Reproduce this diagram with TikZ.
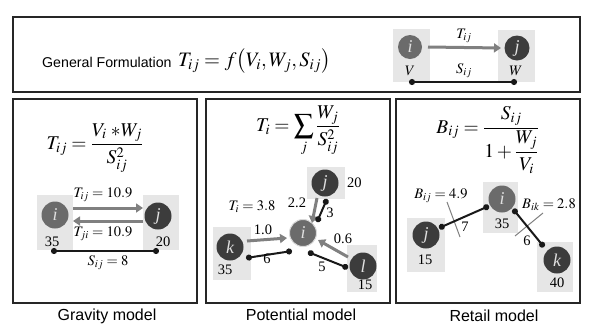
\documentclass[tikz,border=0pt]{standalone}
\usepackage{mathptmx}
\usepackage{fontspec}
\setmainfont{Liberation Serif}
\newfontfamily\sansf{Liberation Sans}
\usetikzlibrary{arrows.meta,calc}
\definecolor{midg}{HTML}{6B6B6B}
\definecolor{darkg}{HTML}{3C3C3C}
\definecolor{bgg}{HTML}{E6E6E6}
\definecolor{arrg}{HTML}{808080}
\begin{document}
\begin{tikzpicture}[x=1pt,y=-1pt,
  frame/.style={draw=black!85,line width=2pt},
  bgbox/.style={fill=bgg,draw=none},
  nd/.style={circle,inner sep=0pt,minimum size=27pt,text=white!88!black,font=\fontsize{18}{18}\selectfont\itshape},
  ndmid/.style={nd,fill=midg},
  nddark/.style={nd,fill=darkg},
  flow/.style={draw=arrg,line width=3pt,-{Triangle[length=7pt,width=9pt]}},
  link/.style={draw=black!90,line width=2pt,{Circle[length=6pt]}-{Circle[length=6pt]}},
  crossline/.style={draw=arrg,line width=1pt},
  lbl/.style={font=\fontsize{14.5}{14.5}\selectfont,inner sep=1pt},
  caption/.style={font=\sansf\fontsize{16}{16}\selectfont,inner sep=0pt}]
\useasboundingbox (0,0) rectangle (589,325);
\fill[white] (0,0) rectangle (589,325);
% frames
\draw[frame] (13,17) rectangle (580,92);
\draw[frame] (13,99) rectangle (197,303);
\draw[frame] (206,99) rectangle (390,303);
\draw[frame] (396,99) rectangle (580,303);
% ---------- top ----------
\node[font=\sansf\fontsize{14.2}{16}\selectfont,anchor=west,inner sep=0pt] (gf) at (42,62) {General Formulation};
\node[anchor=west,inner sep=0pt,font=\fontsize{20.5}{22}\selectfont] (gfeq) at (178,61) {$T_{ij}=f\bigl(V_i,W_j,S_{ij}\bigr)$};
\fill[bgbox] (393,29) rectangle (430,82);
\fill[bgbox] (498,30) rectangle (535,82);
\node[ndmid,minimum size=24pt] (ti) at (410,47) {i};
\node[nddark,minimum size=25pt] (tj) at (517,48) {j};
\draw[flow] ($(ti)+(18,0)$) -- ($(tj)+(-16,0)$);
\node[lbl] (tT) at (464,36) {$T_{ij}$};
\node[lbl] (tV) at (410,71) {$V$};
\node[lbl] (tW) at (516,71) {$W$};
\node[lbl] (tS) at (464,71) {$S_{ij}$};
\draw[link] ($(ti)+(-1,35)$) -- ($(tj)+(0,34)$);
% ---------- gravity ----------
\node[font=\fontsize{19.5}{22}\selectfont] (geq) at (95,148) {$\displaystyle T_{ij}=\frac{V_i\;{*}W_j}{S_{ij}^2}$};
\fill[bgbox] (37,195) rectangle (73,250);
\fill[bgbox] (143,195) rectangle (179,250);
\node[ndmid] (gi) at (55,215) {i};
\node[nddark] (gj) at (158,216) {j};
\draw[flow] ($(gi)+(18,-7)$) -- ($(gj)+(-15,-8)$);
\draw[flow] ($(gj)+(-15,5)$) -- ($(gi)+(18,6)$);
\node[lbl] (gT1) at (103,195) {$T_{ij}=10.9$};
\node[lbl] (gT2) at (103,234) {$T_{ji}=10.9$};
\node[lbl] (g35) at (52,242) {35};
\node[lbl] (g20) at (163,242) {20};
\draw[link] ($(gi)+(-4,36)$) -- ($(gj)+(1,35)$);
\node[lbl] (gS) at (108,263) {$S_{ij}=8$};
\node[caption] (gcap) at (107,316) {Gravity model};
% ---------- potential ----------
\node[font=\fontsize{19.5}{22}\selectfont] (peq) at (298,131) {$\displaystyle T_i=\sum_j\frac{W_j}{S_{ij}^2}$};
\fill[bgbox] (307,167) rectangle (345,199);
\fill[bgbox] (213,227) rectangle (251,280);
\fill[bgbox] (347,245) rectangle (377,292);
\node[nddark] (pj) at (325,183) {j};
\node[ndmid,draw=white!85!black,line width=1pt] (pi) at (303,233) {i};
\node[nddark] (pk) at (230,247) {k};
\node[nddark] (pl) at (363,266) {l};
\node[lbl,anchor=west] (p20) at (346,183) {20};
\node[lbl] (p35) at (225,270) {35};
\node[lbl] (p15) at (365,285) {15};
\node[lbl] (pT) at (252,207) {$T_i=3.8$};
\draw[flow] ($(pj)+(-8,15)$) -- ($(pi)+(9,-10)$);
\draw[flow] ($(pk)+(17,-6)$) -- ($(pi)+(-16,5)$);
\draw[flow] ($(pl)+(-15,-9)$) -- ($(pi)+(15,7)$);
\draw[link] ($(pj)+(2,16)$) -- ($(pi)+(14,-11)$);
\draw[link] ($(pk)+(16,11)$) -- ($(pi)+(-11,18)$);
\draw[link] ($(pi)+(5,19)$) -- ($(pl)+(-15,2)$);
\node[lbl] (p22) at (297,203) {2.2};
\node[lbl] (p3) at (330,213) {3};
\node[lbl] (p10) at (263,230) {1.0};
\node[lbl] (p06) at (343,239) {0.6};
\node[lbl] (p6) at (267,259) {6};
\node[lbl] (p5) at (322,267) {5};
\node[caption] (pcap) at (301,315) {Potential model};
% ---------- retail ----------
\node[font=\fontsize{19.5}{22}\selectfont] (req) at (488,140) {$\displaystyle B_{ij}=\frac{S_{ij}}{1+\displaystyle\frac{W_j}{V_i}}$};
\fill[bgbox] (483,182) rectangle (518,233);
\fill[bgbox] (407,218) rectangle (445,272);
\fill[bgbox] (537,242) rectangle (573,292);
\node[ndmid] (ri) at (502,199) {i};
\node[nddark] (rj) at (426,235) {j};
\node[nddark] (rk) at (557,260) {k};
\node[lbl] (r35) at (502,224) {35};
\node[lbl] (r15) at (425,260) {15};
\node[lbl] (r40) at (557,283) {40};
\draw[crossline] (447,202) -- (460,237);
\draw[crossline] (515,236) -- (543,213);
\draw[link] ($(rj)+(13,-7)$) -- ($(ri)+(-13,7)$);
\draw[link] ($(ri)+(11,10)$) -- ($(rk)+(-13,-13)$);
\node[lbl] (rB1) at (441,196) {$B_{ij}=4.9$};
\node[lbl] (rB2) at (549,205) {$B_{ik}=2.8$};
\node[lbl] (r7) at (465,227) {7};
\node[lbl] (r6) at (527,241) {6};
\node[caption] (rcap) at (494,316) {Retail model};
\end{tikzpicture}
\end{document}
